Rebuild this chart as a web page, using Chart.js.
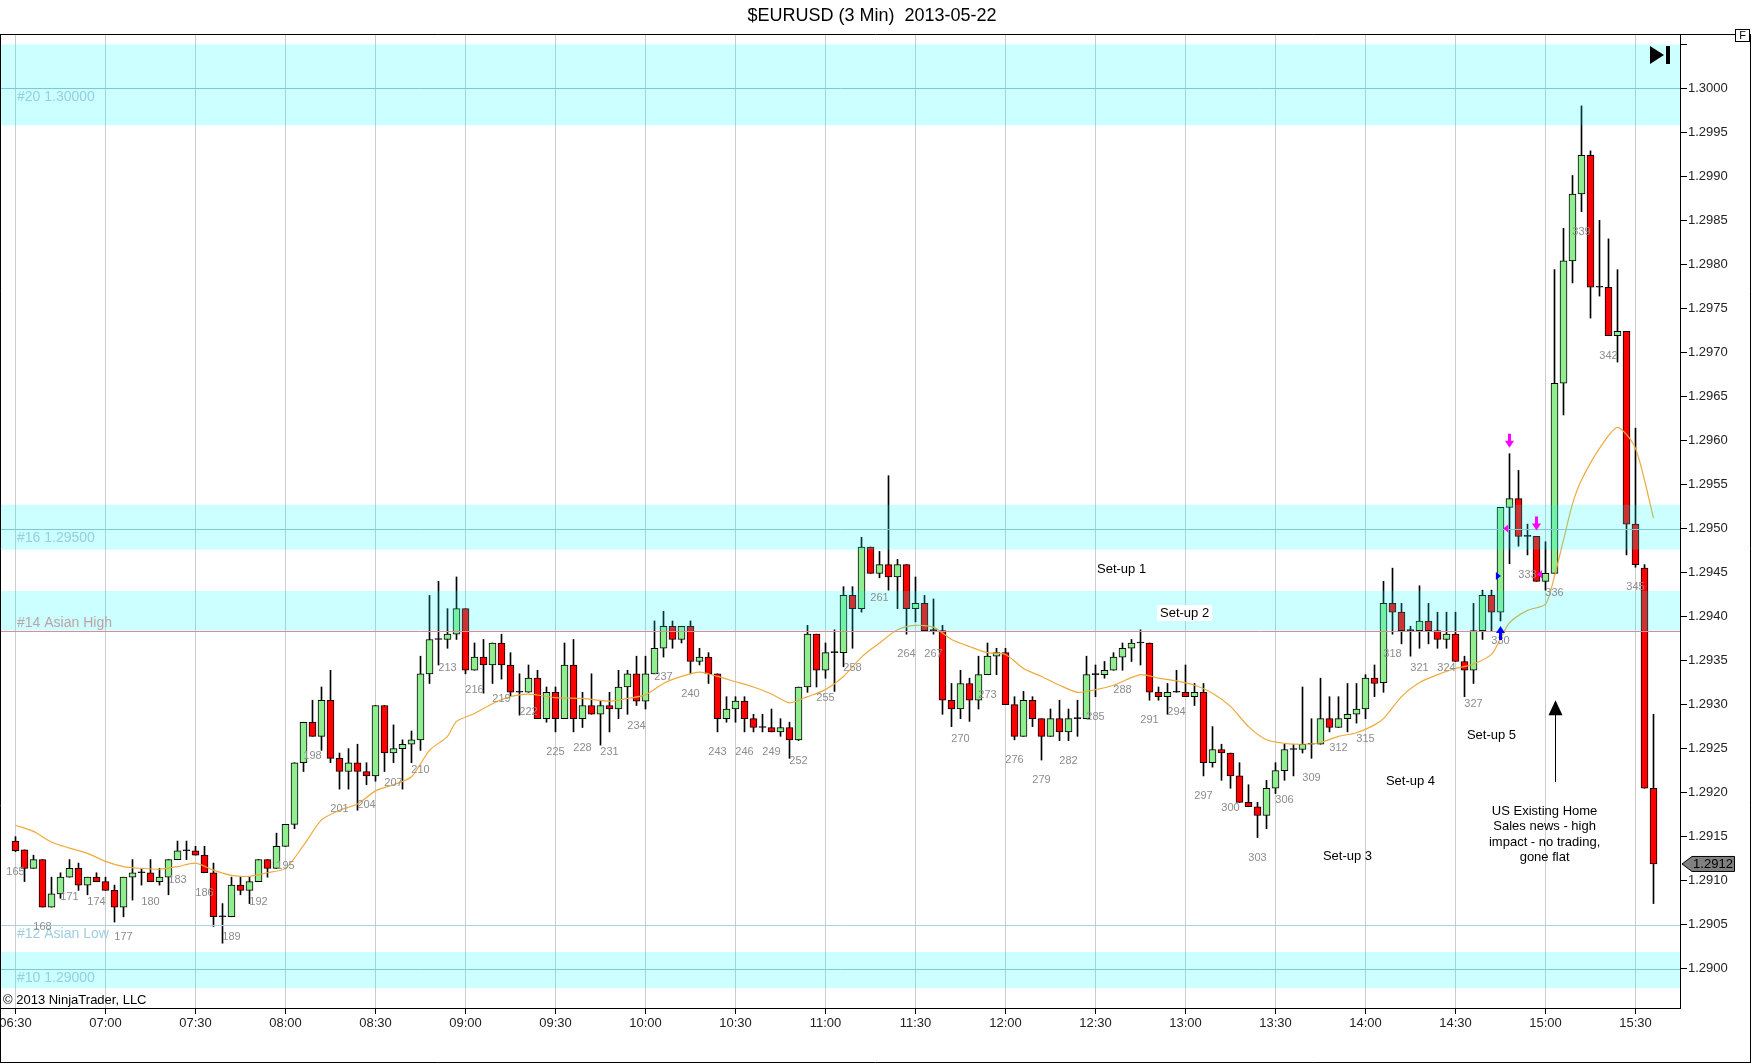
<!DOCTYPE html>
<html>
<head>
<meta charset="utf-8">
<title>$EURUSD (3 Min)  2013-05-22</title>
<script src="https://cdn.jsdelivr.net/npm/chart.js@4.4.1/dist/chart.umd.min.js"></script>
<style>
  html, body { margin: 0; padding: 0; background: #fff; }
  canvas { display: block; }
</style>
</head>
<body>
<canvas id="grafico" width="1752" height="1064"></canvas>
<script>
// bar numbers start at 165 (06:30), one bar every 3 minutes
const firstBar = 165;

const opens = [
  1.29145,1.29135,1.29114,1.29124,1.29070,1.29085,1.29104,1.29114,1.29095,1.29104,
  1.29099,1.29089,1.29070,1.29104,1.29109,1.29109,1.29099,1.29104,1.29124,1.29134,
  1.29134,1.29129,1.29109,1.29059,1.29059,1.29095,1.29089,1.29099,1.29124,1.29114,
  1.29139,1.29164,1.29234,1.29280,1.29264,1.29305,1.29239,1.29224,1.29234,1.29224,
  1.29219,1.29299,1.29245,1.29250,1.29255,1.29260,1.29335,1.29374,1.29374,1.29380,
  1.29409,1.29339,1.29354,1.29345,1.29370,1.29345,1.29314,1.29314,1.29330,1.29284,
  1.29314,1.29284,1.29345,1.29284,1.29299,1.29289,1.29299,1.29295,1.29320,1.29335,
  1.29304,1.29335,1.29364,1.29389,1.29374,1.29389,1.29349,1.29354,1.29335,1.29284,
  1.29295,1.29304,1.29284,1.29274,1.29274,1.29269,1.29274,1.29260,1.29320,1.29380,
  1.29339,1.29359,1.29359,1.29424,1.29409,1.29479,1.29449,1.29459,1.29445,1.29459,
  1.29409,1.29415,1.29384,1.29384,1.29305,1.29295,1.29324,1.29305,1.29334,1.29355,
  1.29359,1.29300,1.29264,1.29305,1.29284,1.29264,1.29284,1.29269,1.29284,1.29284,
  1.29334,1.29334,1.29339,1.29354,1.29364,1.29370,1.29370,1.29314,1.29309,1.29314,
  1.29314,1.29309,1.29314,1.29234,1.29249,1.29245,1.29219,1.29189,1.29184,1.29174,
  1.29205,1.29225,1.29249,1.29249,1.29255,1.29255,1.29284,1.29274,1.29284,1.29289,
  1.29295,1.29330,1.29325,1.29415,1.29405,1.29384,1.29384,1.29395,1.29384,1.29374,
  1.29380,1.29349,1.29339,1.29384,1.29424,1.29405,1.29524,1.29534,1.29491,1.29491,
  1.29440,1.29449,1.29665,1.29804,1.29880,1.29924,1.29774,1.29774,1.29719,1.29724,
  1.29505,1.29455,1.29205
];
const highs = [
  1.29150,1.29135,1.29129,1.29124,1.29104,1.29109,1.29124,1.29120,1.29104,1.29109,
  1.29104,1.29095,1.29104,1.29124,1.29114,1.29124,1.29114,1.29124,1.29145,1.29145,
  1.29139,1.29139,1.29120,1.29074,1.29104,1.29104,1.29104,1.29124,1.29124,1.29154,
  1.29164,1.29234,1.29280,1.29305,1.29320,1.29339,1.29245,1.29250,1.29255,1.29234,
  1.29299,1.29299,1.29277,1.29260,1.29270,1.29355,1.29424,1.29440,1.29409,1.29445,
  1.29409,1.29370,1.29374,1.29370,1.29380,1.29359,1.29335,1.29345,1.29339,1.29320,
  1.29320,1.29370,1.29374,1.29314,1.29335,1.29304,1.29314,1.29339,1.29339,1.29355,
  1.29355,1.29395,1.29406,1.29395,1.29389,1.29395,1.29364,1.29359,1.29335,1.29309,
  1.29309,1.29309,1.29289,1.29289,1.29295,1.29284,1.29280,1.29320,1.29390,1.29380,
  1.29370,1.29385,1.29434,1.29434,1.29490,1.29479,1.29474,1.29560,1.29465,1.29459,
  1.29445,1.29424,1.29420,1.29390,1.29324,1.29339,1.29330,1.29355,1.29370,1.29364,
  1.29364,1.29309,1.29315,1.29309,1.29284,1.29295,1.29305,1.29295,1.29305,1.29355,
  1.29345,1.29349,1.29359,1.29370,1.29374,1.29385,1.29370,1.29320,1.29324,1.29339,
  1.29345,1.29324,1.29324,1.29275,1.29255,1.29245,1.29234,1.29209,1.29189,1.29214,
  1.29234,1.29255,1.29255,1.29320,1.29284,1.29330,1.29309,1.29309,1.29324,1.29324,
  1.29334,1.29345,1.29440,1.29455,1.29415,1.29389,1.29435,1.29415,1.29405,1.29405,
  1.29405,1.29355,1.29415,1.29430,1.29430,1.29524,1.29585,1.29566,1.29505,1.29491,
  1.29485,1.29794,1.29841,1.29901,1.29980,1.29929,1.29850,1.29829,1.29794,1.29724,
  1.29614,1.29459,1.29289
];
const lows = [
  1.29133,1.29099,1.29114,1.29070,1.29070,1.29080,1.29104,1.29089,1.29084,1.29099,
  1.29089,1.29053,1.29059,1.29078,1.29095,1.29099,1.29095,1.29084,1.29124,1.29124,
  1.29129,1.29109,1.29048,1.29029,1.29059,1.29084,1.29074,1.29099,1.29104,1.29114,
  1.29139,1.29159,1.29224,1.29264,1.29248,1.29234,1.29204,1.29204,1.29180,1.29209,
  1.29213,1.29224,1.29234,1.29204,1.29234,1.29248,1.29324,1.29345,1.29364,1.29374,
  1.29335,1.29339,1.29313,1.29324,1.29329,1.29310,1.29288,1.29314,1.29284,1.29280,
  1.29269,1.29284,1.29269,1.29274,1.29289,1.29254,1.29269,1.29284,1.29289,1.29299,
  1.29295,1.29335,1.29354,1.29364,1.29370,1.29335,1.29345,1.29324,1.29269,1.29280,
  1.29280,1.29269,1.29269,1.29269,1.29269,1.29264,1.29239,1.29259,1.29314,1.29320,
  1.29330,1.29315,1.29343,1.29364,1.29405,1.29449,1.29444,1.29430,1.29409,1.29380,
  1.29394,1.29384,1.29380,1.29289,1.29275,1.29284,1.29281,1.29295,1.29334,1.29334,
  1.29300,1.29260,1.29264,1.29275,1.29237,1.29264,1.29259,1.29259,1.29264,1.29284,
  1.29309,1.29330,1.29339,1.29339,1.29349,1.29345,1.29305,1.29305,1.29289,1.29314,
  1.29309,1.29299,1.29219,1.29229,1.29214,1.29205,1.29189,1.29184,1.29149,1.29159,
  1.29199,1.29214,1.29219,1.29245,1.29239,1.29255,1.29269,1.29274,1.29269,1.29279,
  1.29284,1.29309,1.29314,1.29380,1.29369,1.29355,1.29364,1.29369,1.29364,1.29364,
  1.29349,1.29309,1.29324,1.29374,1.29384,1.29395,1.29460,1.29480,1.29470,1.29440,
  1.29430,1.29449,1.29629,1.29779,1.29860,1.29739,1.29764,1.29719,1.29689,1.29470,
  1.29456,1.29205,1.29074
];
const closes = [
  1.29134,1.29114,1.29124,1.29070,1.29085,1.29104,1.29114,1.29095,1.29104,1.29099,
  1.29089,1.29070,1.29104,1.29109,1.29109,1.29099,1.29104,1.29124,1.29134,1.29134,
  1.29129,1.29109,1.29059,1.29059,1.29095,1.29089,1.29099,1.29124,1.29114,1.29139,
  1.29164,1.29234,1.29280,1.29264,1.29305,1.29239,1.29224,1.29234,1.29224,1.29219,
  1.29299,1.29245,1.29250,1.29255,1.29260,1.29335,1.29374,1.29374,1.29380,1.29409,
  1.29339,1.29354,1.29345,1.29370,1.29345,1.29314,1.29314,1.29330,1.29284,1.29314,
  1.29284,1.29345,1.29284,1.29299,1.29289,1.29299,1.29295,1.29320,1.29335,1.29304,
  1.29335,1.29364,1.29389,1.29374,1.29389,1.29349,1.29354,1.29335,1.29284,1.29295,
  1.29304,1.29284,1.29274,1.29274,1.29269,1.29274,1.29260,1.29320,1.29380,1.29339,
  1.29359,1.29359,1.29424,1.29409,1.29479,1.29449,1.29459,1.29445,1.29459,1.29409,
  1.29415,1.29384,1.29384,1.29305,1.29295,1.29324,1.29305,1.29334,1.29355,1.29359,
  1.29300,1.29264,1.29305,1.29284,1.29264,1.29284,1.29269,1.29284,1.29284,1.29334,
  1.29334,1.29339,1.29354,1.29364,1.29370,1.29370,1.29314,1.29309,1.29314,1.29314,
  1.29309,1.29314,1.29234,1.29249,1.29245,1.29219,1.29189,1.29184,1.29174,1.29205,
  1.29225,1.29249,1.29249,1.29255,1.29255,1.29284,1.29274,1.29284,1.29289,1.29295,
  1.29330,1.29324,1.29415,1.29405,1.29384,1.29384,1.29395,1.29384,1.29374,1.29380,
  1.29349,1.29339,1.29384,1.29424,1.29405,1.29524,1.29534,1.29491,1.29491,1.29440,
  1.29449,1.29665,1.29804,1.29880,1.29924,1.29774,1.29774,1.29719,1.29724,1.29505,
  1.29459,1.29205,1.29119
];

// orange moving average at these bars
const maBars = [
  165,167,169,171,173,175,177,179,181,183,185,187,189,191,193,195,197,199,201,203,
  205,207,209,211,213,214,216,218,220,222,225,228,231,233,235,237,239,241,243,245,
  247,249,251,253,255,257,259,261,263,265,267,269,271,273,275,277,279,281,283,285,
  287,290,292,294,296,298,300,302,304,306,308,310,312,314,316,317,319,321,323,325,
  327,329,330,331,333,335,336,337,338,339,341,343,345,347
];
const maValues = [
  1.29163,1.29156,1.29144,1.29137,1.29131,1.29122,1.29116,1.29114,1.29113,1.29116,
  1.29120,1.29112,1.29106,1.29105,1.29109,1.29114,1.29140,1.29169,1.29180,1.29187,
  1.29202,1.29209,1.29218,1.29248,1.29264,1.29281,1.29290,1.29301,1.29309,1.29312,
  1.29308,1.29307,1.29304,1.29307,1.29311,1.29324,1.29332,1.29337,1.29332,1.29326,
  1.29320,1.29312,1.29302,1.29309,1.29317,1.29332,1.29354,1.29370,1.29385,1.29390,
  1.29388,1.29374,1.29366,1.29359,1.29357,1.29341,1.29332,1.29322,1.29314,1.29317,
  1.29322,1.29334,1.29330,1.29327,1.29322,1.29313,1.29298,1.29275,1.29260,1.29256,
  1.29255,1.29257,1.29264,1.29268,1.29277,1.29284,1.29309,1.29325,1.29334,1.29341,
  1.29346,1.29357,1.29375,1.29393,1.29407,1.29414,1.29446,1.29487,1.29528,1.29555,
  1.29591,1.29615,1.29591,1.29512
];

const timeLabels = ["06:30","07:00","07:30","08:00","08:30","09:00","09:30","10:00","10:30",
  "11:00","11:30","12:00","12:30","13:00","13:30","14:00","14:30","15:00","15:30"];
const priceTicks = [1.2900,1.2905,1.2910,1.2915,1.2920,1.2925,1.2930,1.2935,1.2940,1.2945,
  1.2950,1.2955,1.2960,1.2965,1.2970,1.2975,1.2980,1.2985,1.2990,1.2995,1.3000,1.3005];

// drawn zones and lines
const zoneLows  = [1.29958, 1.29476, 1.29384, 1.28978];
const zoneHighs = [1.30050, 1.29527, 1.29429, 1.29019];
const levelPrices = [1.3000, 1.2950, 1.29384, 1.2905, 1.2900];
const levelNames  = ["#20 1.30000", "#16 1.29500", "#14 Asian High", "#12 Asian Low", "#10 1.29000"];
const levelColors = ["#7fc9d6", "#7fc9d6", "#dc8c96", "#a9d3e4", "#7fc9d6"];
const levelTextColors = ["#93d0e2", "#93d0e2", "#bfa2a2", "#9ccfe2", "#93d0e2"];
const levelTextAbove = [false, false, true, false, false];

const FONT = "'Liberation Sans', Arial, sans-serif";

const barNums = opens.map((o, i) => firstBar + i);
const wickData = barNums.map((b, i) => ({ x: b, y: [lows[i], highs[i]] }));
const bodyData = barNums.map((b, i) => ({ x: b, y: [opens[i], closes[i]] }));
const bodyColors = barNums.map((b, i) =>
  closes[i] > opens[i] ? "#90ee90" : (closes[i] < opens[i] ? "#ff0000" : "#000000"));
const maData = maBars.map((b, i) => ({ x: b, y: maValues[i] }));

const notes = [
  { text: "Set-up 1", bar: 287.9, price: 1.29454 },
  { text: "Set-up 2", bar: 294.9, price: 1.29404, box: true },
  { text: "Set-up 3", bar: 313.0, price: 1.29128 },
  { text: "Set-up 4", bar: 320.0, price: 1.29213 },
  { text: "Set-up 5", bar: 329.0, price: 1.29265 }
];
const newsLines = ["US Existing Home", "Sales news - high", "impact - no trading,", "gone flat"];

function arrow(ctx, x, tipY, dir, color) {
  // dir 1 = pointing down, -1 = pointing up
  ctx.fillStyle = color;
  ctx.beginPath();
  ctx.moveTo(x - 1.5, tipY - dir * 14);
  ctx.lineTo(x + 1.5, tipY - dir * 14);
  ctx.lineTo(x + 1.5, tipY - dir * 7);
  ctx.lineTo(x + 4.5, tipY - dir * 7);
  ctx.lineTo(x, tipY);
  ctx.lineTo(x - 4.5, tipY - dir * 7);
  ctx.lineTo(x - 1.5, tipY - dir * 7);
  ctx.closePath();
  ctx.fill();
}

function tri(ctx, x, y, dir, color) {
  // small horizontal triangle, dir 1 = right, -1 = left
  ctx.fillStyle = color;
  ctx.beginPath();
  ctx.moveTo(x + dir * 4, y);
  ctx.lineTo(x - dir * 1, y - 4);
  ctx.lineTo(x - dir * 1, y + 4);
  ctx.closePath();
  ctx.fill();
}

const overlayPlugin = {
  id: "overlay",
  beforeDraw(chart) {
    const ctx = chart.ctx;
    ctx.save();
    ctx.fillStyle = "#fff";
    ctx.fillRect(0, 0, chart.width, chart.height);
    ctx.restore();
  },
  afterDatasetsDraw(chart) {
    const ctx = chart.ctx;
    const a = chart.chartArea;
    const xs = chart.scales.x, ys = chart.scales.y;
    ctx.save();
    ctx.beginPath();
    ctx.rect(a.left, a.top, a.right - a.left, a.bottom - a.top);
    ctx.clip();

    // zones, see-through so bars below get tinted
    ctx.fillStyle = "rgba(0,255,255,0.2)";
    zoneLows.forEach((lo, i) => {
      const y1 = ys.getPixelForValue(zoneHighs[i]);
      const y2 = ys.getPixelForValue(lo);
      ctx.fillRect(a.left, y1, a.right - a.left, y2 - y1);
    });

    // level lines and their names
    ctx.font = "14px " + FONT;
    levelPrices.forEach((p, i) => {
      const y = Math.round(ys.getPixelForValue(p)) + 0.5;
      ctx.strokeStyle = levelColors[i];
      ctx.lineWidth = 1;
      ctx.beginPath();
      ctx.moveTo(a.left, y);
      ctx.lineTo(a.right, y);
      ctx.stroke();
      ctx.fillStyle = levelTextColors[i];
      ctx.textAlign = "left";
      if (levelTextAbove[i]) {
        ctx.textBaseline = "bottom";
        ctx.fillText(levelNames[i], 17, y - 1);
      } else {
        ctx.textBaseline = "top";
        ctx.fillText(levelNames[i], 17, y + 2);
      }
    });

    // bar numbers every third bar, under the low
    ctx.font = "11px " + FONT;
    ctx.fillStyle = "#8c8c8c";
    ctx.textAlign = "center";
    ctx.textBaseline = "middle";
    barNums.forEach((b, i) => {
      if ((b - firstBar) % 3 !== 0) return;
      ctx.fillText(String(b), xs.getPixelForValue(b), ys.getPixelForValue(lows[i]) + 20);
    });

    // set-up notes
    ctx.font = "13px " + FONT;
    notes.forEach(n => {
      const x = xs.getPixelForValue(n.bar), y = ys.getPixelForValue(n.price);
      if (n.box) {
        const w = ctx.measureText(n.text).width;
        ctx.fillStyle = "#fff";
        ctx.fillRect(x - w / 2 - 3, y - 8, w + 6, 16);
      }
      ctx.fillStyle = "#000";
      ctx.fillText(n.text, x, y);
    });
    const nx = xs.getPixelForValue(334.9);
    const ny = ys.getPixelForValue(1.29179);
    newsLines.forEach((t, k) => ctx.fillText(t, nx, ny + k * 15.5));

    // big black arrow under the news bar
    const ax = Math.round(xs.getPixelForValue(336.05)) + 0.5;
    const aTip = ys.getPixelForValue(1.29305);
    const aEnd = ys.getPixelForValue(1.29212);
    ctx.strokeStyle = "#000";
    ctx.beginPath();
    ctx.moveTo(ax, aEnd);
    ctx.lineTo(ax, aTip + 12);
    ctx.stroke();
    ctx.fillStyle = "#000";
    ctx.beginPath();
    ctx.moveTo(ax, aTip);
    ctx.lineTo(ax + 7, aTip + 15);
    ctx.lineTo(ax - 7, aTip + 15);
    ctx.closePath();
    ctx.fill();

    // entry / exit signals
    const bx = b => xs.getPixelForValue(b);
    const idx = b => b - firstBar;
    arrow(ctx, bx(331), ys.getPixelForValue(highs[idx(331)]) - 6, 1, "#ff00ff");
    arrow(ctx, bx(334), ys.getPixelForValue(highs[idx(334)]) - 6, 1, "#ff00ff");
    arrow(ctx, bx(330), ys.getPixelForValue(lows[idx(330)]) + 5, -1, "#0000ff");
    tri(ctx, bx(330.75), ys.getPixelForValue(1.29500), -1, "#ff00ff");
    tri(ctx, bx(334.5), ys.getPixelForValue(1.29448), -1, "#ff00ff");
    tri(ctx, bx(329.6), ys.getPixelForValue(1.29446), 1, "#0000ff");

    ctx.restore();
  },
  afterDraw(chart) {
    const ctx = chart.ctx;
    const a = chart.chartArea;
    const ys = chart.scales.y;
    ctx.save();

    // title
    ctx.fillStyle = "#000";
    ctx.font = "18px " + FONT;
    ctx.textAlign = "center";
    ctx.textBaseline = "middle";
    ctx.fillText("$EURUSD (3 Min)  2013-05-22", 872, 16);

    // frame
    ctx.strokeStyle = "#000";
    ctx.lineWidth = 1;
    ctx.beginPath();
    ctx.moveTo(0, a.top + 0.5); ctx.lineTo(1751, a.top + 0.5);
    ctx.moveTo(0.5, a.top); ctx.lineTo(0.5, 1062.5);
    ctx.moveTo(0, 1062.5); ctx.lineTo(1751, 1062.5);
    ctx.moveTo(1750.5, a.top); ctx.lineTo(1750.5, 1063);
    ctx.stroke();

    // "F" box
    ctx.fillStyle = "#fff";
    ctx.fillRect(1735.5, 29.5, 14, 12);
    ctx.strokeRect(1735.5, 29.5, 14, 12);
    ctx.fillStyle = "#000";
    ctx.font = "11px " + FONT;
    ctx.fillText("F", 1742.5, 36);

    // go-to-end icon
    ctx.beginPath();
    ctx.moveTo(1650, 46); ctx.lineTo(1664, 55); ctx.lineTo(1650, 64);
    ctx.closePath();
    ctx.fill();
    ctx.fillRect(1666, 46, 4, 18);

    // last price marker
    const last = closes[closes.length - 1];
    const py = ys.getPixelForValue(last);
    ctx.fillStyle = "#808080";
    ctx.beginPath();
    ctx.moveTo(a.right + 2, py);
    ctx.lineTo(a.right + 12, py - 7.5);
    ctx.lineTo(1734.5, py - 7.5);
    ctx.lineTo(1734.5, py + 7.5);
    ctx.lineTo(a.right + 12, py + 7.5);
    ctx.closePath();
    ctx.fill();
    ctx.stroke();
    ctx.fillStyle = "#000";
    ctx.font = "13px " + FONT;
    ctx.fillText(last.toFixed(4), 1713, py + 0.5);

    // copyright
    ctx.textAlign = "left";
    ctx.font = "13px " + FONT;
    ctx.fillText("\u00a9 2013 NinjaTrader, LLC", 3, 1000);
    ctx.restore();
  }
};

const ctx = document.getElementById("grafico");

const chart = new Chart(ctx, {
  type: "bar",
  data: {
    datasets: [
      {
        type: "line",
        data: maData,
        borderColor: "#eeaa3c",
        borderWidth: 1.2,
        pointRadius: 0,
        tension: 0.25,
        order: 1
      },
      {
        data: bodyData,
        backgroundColor: bodyColors,
        borderColor: "#000",
        borderWidth: 1,
        borderSkipped: false,
        barThickness: 7,
        minBarLength: 1,
        grouped: false,
        order: 2
      },
      {
        data: wickData,
        backgroundColor: "#000",
        borderWidth: 0,
        barThickness: 1,
        grouped: false,
        order: 3
      }
    ]
  },
  options: {
    responsive: false,
    devicePixelRatio: 1,
    animation: false,
    events: [],
    layout: { padding: { left: 1, top: 34, right: 0, bottom: 0 } },
    plugins: { legend: { display: false }, tooltip: { enabled: false }, title: { display: false } },
    scales: {
      x: {
        type: "linear",
        min: 163.3889,
        max: 349.9444,
        offset: false,
        grid: { offset: false, color: "#cccccc", tickColor: "#000", tickLength: 6 },
        border: { color: "#000" },
        afterBuildTicks: s => { s.ticks = timeLabels.map((t, k) => ({ value: firstBar + k * 10 })); },
        afterFit: s => { s.height = 56; s.paddingLeft = 0; s.paddingRight = 0; },
        ticks: {
          autoSkip: false,
          maxRotation: 0,
          padding: 2,
          color: "#222",
          font: { family: FONT, size: 13 },
          callback: v => timeLabels[Math.round((v - firstBar) / 10)]
        }
      },
      y: {
        position: "right",
        min: 1.289554,
        max: 1.300617,
        grid: { drawOnChartArea: false, tickColor: "#000", tickLength: 7 },
        border: { color: "#000" },
        afterBuildTicks: s => { s.ticks = priceTicks.map(v => ({ value: v })); },
        afterFit: s => { s.width = 72; s.paddingTop = 0; s.paddingBottom = 0; },
        ticks: {
          autoSkip: false,
          padding: 1,
          color: "#222",
          font: { family: FONT, size: 13 },
          callback: v => (v > 1.3001 ? "" : v.toFixed(4))
        }
      }
    }
  },
  plugins: [overlayPlugin]
});
</script>
</body>
</html>
